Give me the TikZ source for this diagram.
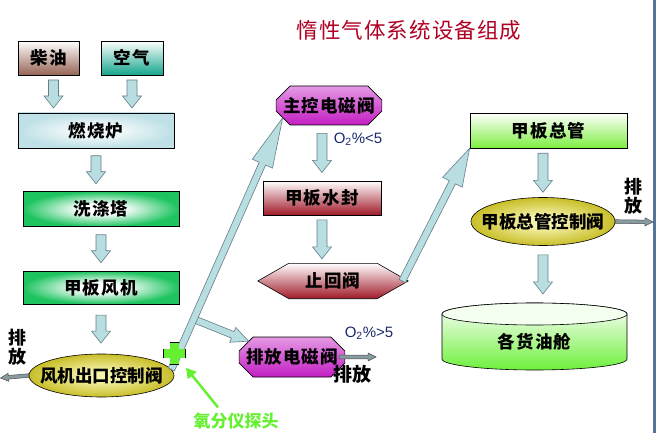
\documentclass[tikz,border=0pt]{standalone}
\usepackage{fontspec}
\setmainfont{Noto Sans CJK SC}
\newfontfamily\lsans{Liberation Sans}
\usetikzlibrary{calc,shapes.geometric,shapes.misc,arrows.meta,backgrounds}

\definecolor{oilbrown}{RGB}{150,100,85}
\definecolor{airteal}{RGB}{20,165,140}
\definecolor{furncyan}{RGB}{190,224,230}
\definecolor{furnlight}{RGB}{240,248,249}
\definecolor{scrubgreen}{RGB}{30,196,96}
\definecolor{valveyellow}{RGB}{200,190,40}
\definecolor{valvelight}{RGB}{245,242,170}
\definecolor{solmag}{RGB}{195,30,195}
\definecolor{sealred}{RGB}{160,25,40}
\definecolor{deckgreen}{RGB}{125,238,65}
\definecolor{tankgreen}{RGB}{110,240,60}
\definecolor{tanktopfill}{RGB}{244,255,240}
\definecolor{pipeblue}{RGB}{185,222,226}
\definecolor{pipeedge}{RGB}{100,125,135}
\definecolor{ventgray}{RGB}{135,155,160}
\definecolor{probegreen}{RGB}{102,240,50}
\definecolor{titlered}{RGB}{175,0,35}
\definecolor{o2blue}{RGB}{25,40,110}
\definecolor{framebar}{RGB}{85,115,155}

\pgfdeclareradialshading{furnglow}{\pgfpoint{0bp}{0bp}}{color(0bp)=(furnlight); color(8bp)=(furnlight); color(25bp)=(furncyan); color(50bp)=(furncyan)}
\pgfdeclareradialshading{scrubglow}{\pgfpoint{0bp}{0bp}}{color(0bp)=(white); color(7bp)=(white); color(25bp)=(scrubgreen); color(50bp)=(scrubgreen)}
\pgfdeclareradialshading{valveglow}{\pgfpoint{0bp}{0bp}}{color(0bp)=(valvelight); color(6bp)=(valvelight); color(25bp)=(valveyellow); color(50bp)=(valveyellow)}

\newcommand\boxfont{\fontsize{17.5}{17.5}\selectfont\bfseries\addfontfeatures{LetterSpace=6}}

\tikzset{
  box/.style={draw=black, line width=0.8pt, minimum width=156pt, minimum height=35pt,
    inner sep=0pt, font=\boxfont},
  valve/.style={ellipse, draw=black, line width=0.6pt, shading=valveglow, inner sep=0pt,
    font=\fontsize{17.5}{17.5}\selectfont\bfseries},
  solenoid/.style={chamfered rectangle, chamfered rectangle xsep=7pt, chamfered rectangle ysep=7pt,
    draw=black, line width=0.6pt, inner sep=0pt, top color=solmag!45, middle color=white, bottom color=solmag,
    font=\boxfont},
  pipe/.style={fill=pipeblue, draw=pipeedge, line width=0.6pt},
  vent/.style={fill=ventgray, draw=black!70, line width=0.5pt},
  ventword/.style={align=center, font=\fontsize{18}{19}\selectfont\bfseries},
  o2/.style={text=o2blue, font=\lsans\fontsize{15}{15}\selectfont}
}

% fat arrow: [style]{from}{to}{half shaft}{half head}{head length}
\newcommand\fatarrow[6][pipe]{%
  \coordinate (fh) at ($(#3)!#6!(#2)$);
  \draw[#1] ($(#2)!#4!90:(#3)$) -- ($(fh)!#4!90:(#3)$) -- ($(fh)!#5!90:(#3)$) -- (#3)
    -- ($(fh)!#5!-90:(#3)$) -- ($(fh)!#4!-90:(#3)$) -- ($(#2)!#4!-90:(#3)$) -- cycle;
}
% downward pipe arrow of given length centred in the gap
\newcommand\downpipe[3][28]{%
  \coordinate (pm) at ($(#2)!0.5!(#2 |- #3)$);
  \coordinate (pa) at ($(pm)+(0,#1/2)$);
  \coordinate (pb) at ($(pm)-(0,#1/2)$);
  \fatarrow{pa}{pb}{5pt}{9.5pt}{12pt}%
}

\begin{document}
\begin{tikzpicture}[x=1pt,y=1pt]
\useasboundingbox (0,0) rectangle (656,-433);
\fill[framebar] (653,0) rectangle (655.5,-433);

% Title
\node[text=titlered, font=\fontsize{21.5}{21.5}\selectfont\addfontfeatures{LetterSpace=5}] (title) at (409,-30) {惰性气体系统设备组成};

% Left column
\node[box, minimum width=61pt, minimum height=34pt, top color=white, bottom color=oilbrown] (chaiyou) at (48.5,-58) {柴油};
\node[box, minimum width=62pt, minimum height=34pt, top color=white, bottom color=airteal] (kongqi) at (132,-58) {空气};
\node[box, shading=furnglow] (ranshaolu) at (96,-130.5) {燃烧炉};
\node[box, shading=scrubglow] (xidita) at (101,-209) {洗涤塔};
\node[box, minimum height=33pt, shading=scrubglow] (jbfengji) at (101,-287.5) {甲板风机};
\node[valve, minimum width=145pt, minimum height=43pt] (fjvalve) at (101.5,-375.5) {\makebox[0pt]{风机出口控制阀}};

% Middle column
\node[solenoid, minimum width=98pt, minimum height=39pt] (zhukong) at (329,-105.5) {主控电磁阀};
\node[box, minimum width=118pt, minimum height=34pt, top color=white, bottom color=sealred] (shuifeng) at (322,-198) {甲板水封};
\node[minimum width=88pt, minimum height=35pt, inner sep=0pt, font=\boxfont] (zhihui) at (333,-281) {止回阀};
\node[solenoid, minimum width=100pt, minimum height=40pt] (paifang) at (292,-357) {排放电磁阀};

% Right column
\node[box, minimum width=157pt, top color=white, bottom color=deckgreen] (zongguan) at (548.5,-130.5) {甲板总管};
\node[valve, minimum width=144pt, minimum height=48pt] (zgvalve) at (543,-221.5) {\makebox[0pt]{甲板总管控制阀}};
\node[font=\boxfont] (tank) at (534.5,-342) {各货油舱};
\coordinate (tanktop) at (534.5,-303);

\begin{scope}[on background layer]
  \shade[draw=black, line width=0.6pt, top color=white, bottom color=sealred]
    ([xshift=-31pt]zhihui.west) -- (zhihui.north west) -- (zhihui.north east)
    -- ([xshift=31pt]zhihui.east) -- (zhihui.south east) -- (zhihui.south west) -- cycle;
  \shade[draw=black, line width=0.6pt, top color=white, bottom color=tankgreen]
    (442,-314) -- (442,-359) arc[start angle=180, end angle=360, x radius=92.5, y radius=11]
    -- (627,-314) arc[start angle=0, end angle=180, x radius=92.5, y radius=11] -- cycle;
  \filldraw[fill=tanktopfill, draw=black, line width=0.6pt] (534.5,-314) ellipse[x radius=92.5, y radius=11];
\end{scope}

% Vertical pipes
\coordinate (cyout) at ([xshift=5pt]chaiyou.south);
\downpipe{cyout}{ranshaolu.north}
\downpipe{kongqi.south}{ranshaolu.north}
\downpipe{ranshaolu.south}{xidita.north}
\downpipe{xidita.south}{jbfengji.north}
\downpipe{jbfengji.south}{fjvalve.north}
\coordinate (zkout) at (zhukong.south -| shuifeng.north);
\downpipe[39]{zkout}{shuifeng.north}
\downpipe[39]{shuifeng.south}{zhihui.north}
\coordinate (zgout) at (zongguan.south -| zgvalve.north);
\downpipe[39]{zgout}{zgvalve.north}
\downpipe[39]{zgvalve.south}{tanktop}

% Diagonal pipes
\coordinate (branch) at ($(fjvalve.5)!0.2!(zhukong.195)$);
\fatarrow{branch}{paifang.160}{3.5pt}{8pt}{17pt}
\fatarrow{fjvalve.5}{zhukong.195}{3.5pt}{11pt}{50pt}
\coordinate (zhout) at ([xshift=25pt]zhihui.east);
\fatarrow{zhout}{zongguan.south west}{3.5pt}{11pt}{38pt}

% Vents
\coordinate (ventl) at (0.5,-378);
\coordinate (ventm) at (376,-357);
\coordinate (ventr) at (653,-222);
\fatarrow[vent]{fjvalve.west}{ventl}{1.8pt}{4pt}{8pt}
\fatarrow[vent]{[xshift=-6pt]paifang.east}{ventm}{1.8pt}{4pt}{8pt}
\fatarrow[vent]{zgvalve.east}{ventr}{1.8pt}{4pt}{8pt}
\node[ventword] (ventltext) at (18,-347) {排\\放};
\node[ventword] (ventrtext) at (633,-196) {排\\放};
\node[font=\fontsize{19}{19}\selectfont\bfseries] (ventmtext) at (352,-374) {排放};

% Oxygen limits
\node[o2] (o2low) at (358,-139) {O\textsubscript{2}\%<5};
\node[o2] (o2high) at (369,-333) {O\textsubscript{2}\%>5};

% Oxygen probe
\coordinate (probe) at (174,-353);
\fill[probegreen] ($(probe)+(-4.5,-11)$) rectangle ($(probe)+(4.5,11)$);
\fill[probegreen] ($(probe)+(-11,-4.5)$) rectangle ($(probe)+(11,4.5)$);
\draw[black, line width=0.9pt] ($(probe)+(-4.5,11)$) -- ++(9,0);
\draw[black, line width=0.9pt] ($(probe)+(-4.5,-11)$) -- ++(9,0);
\draw[black, line width=0.9pt] ($(probe)+(-11,-4.5)$) -- ++(0,9);
\draw[black, line width=0.9pt] ($(probe)+(11,-4.5)$) -- ++(0,9);
\node[text=probegreen, font=\fontsize{17}{17}\selectfont\bfseries] (probename) at (236,-421) {氧分仪探头};
\draw[probegreen, line width=2.5pt, shorten >=19pt, -{Triangle[length=10pt,width=11pt]}]
  ([xshift=-18pt,yshift=2pt]probename.north) -- (probe);
\end{tikzpicture}
\end{document}
